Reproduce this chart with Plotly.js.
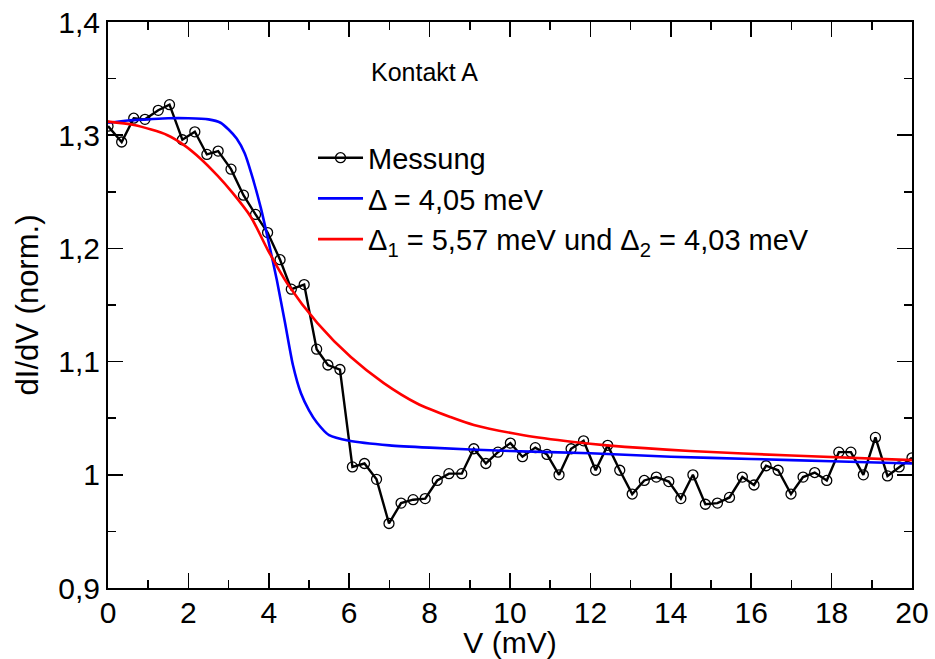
<!DOCTYPE html>
<html>
<head>
<meta charset="utf-8">
<script src="https://cdn.plot.ly/plotly-3.0.1.min.js"></script>
<style>
html,body{margin:0;padding:0;background:#fff;}
#chart{width:935px;height:659px;}
</style>
</head>
<body>
<div id="chart"></div>
<script>
// Measured data (Messung)
const measV = [0, 0.34, 0.64, 0.92, 1.25, 1.53, 1.85, 2.16, 2.46, 2.74, 3.06, 3.37, 3.67, 3.97, 4.28, 4.56, 4.88, 5.19, 5.47, 5.77,
  6.08, 6.38, 6.68, 6.99, 7.29, 7.59, 7.89, 8.19, 8.48, 8.80, 9.10, 9.40, 9.70, 10.01, 10.31, 10.63, 10.92, 11.22, 11.52, 11.83,
  12.13, 12.43, 12.73, 13.04, 13.34, 13.64, 13.95, 14.25, 14.55, 14.86, 15.16, 15.46, 15.78, 16.07, 16.37, 16.67, 16.99, 17.29,
  17.58, 17.88, 18.18, 18.48, 18.79, 19.09, 19.39, 19.68, 20];
const measG = [1.308, 1.294, 1.315, 1.314, 1.322, 1.327, 1.296, 1.303, 1.283, 1.286, 1.270, 1.247, 1.230, 1.214, 1.190, 1.164, 1.168, 1.111, 1.097, 1.093,
  1.007, 1.010, 0.996, 0.957, 0.975, 0.978, 0.979, 0.995, 1.001, 1.001, 1.023, 1.010, 1.020, 1.028, 1.016, 1.024, 1.018, 1.000, 1.023, 1.030,
  1.004, 1.026, 1.004, 0.983, 0.995, 0.998, 0.994, 0.979, 1.000, 0.974, 0.975, 0.980, 0.998, 0.991, 1.008, 1.004, 0.983, 0.998,
  1.002, 0.995, 1.020, 1.020, 1.000, 1.033, 0.999, 1.007, 1.015];

// Fit with one gap (blue)
const fit1V = [0, 0.5, 1, 1.5, 2, 2.5, 2.8, 3.0, 3.2, 3.4, 3.6, 3.8, 4.0, 4.2, 4.4, 4.6, 4.8, 5.0, 5.2, 5.5, 6, 7, 8, 10, 12, 14, 16, 18, 20];
const fit1G = [1.311, 1.313, 1.314, 1.315, 1.315, 1.314, 1.311, 1.305, 1.297, 1.284, 1.262, 1.236, 1.205, 1.172, 1.135, 1.097, 1.072, 1.057, 1.046, 1.035, 1.030, 1.026, 1.024, 1.021, 1.019, 1.016, 1.014, 1.012, 1.010];

// Fit with two gaps (red)
const fit2V = [0, 0.65, 1.48, 1.90, 2.31, 2.73, 3.1, 3.55, 3.97, 4.46, 5.21, 6.04, 6.86, 7.69, 8.52, 9.10, 10.34, 11.58, 12.41, 14.48, 17, 20];
const fit2G = [1.312, 1.309, 1.300, 1.291, 1.279, 1.264, 1.249, 1.228, 1.199, 1.169, 1.134, 1.104, 1.081, 1.063, 1.051, 1.044, 1.035, 1.029, 1.026, 1.021, 1.017, 1.013];

const names = ['Messung', 'Δ = 4,05 meV', 'Δ<sub>1</sub> = 5,57 meV und Δ<sub>2</sub> = 4,03 meV'];
const xTickVals = [0, 2, 4, 6, 8, 10, 12, 14, 16, 18, 20];
const xTickText = ['0', '2', '4', '6', '8', '10', '12', '14', '16', '18', '20'];
const yTickVals = [0.9, 1.0, 1.1, 1.2, 1.3, 1.4];
const yTickText = ['0,9', '1', '1,1', '1,2', '1,3', '1,4'];

const FONT = 'Liberation Sans, Arial, sans-serif';

const traces = [
  {x: measV, y: measG, name: names[0], mode: 'lines+markers', type: 'scatter',
   line: {color: '#000', width: 2.4},
   marker: {symbol: 'circle-open', size: 10, color: '#000', line: {width: 1.3, color: '#000'}}},
  {x: fit1V, y: fit1G, name: names[1], mode: 'lines', type: 'scatter',
   line: {color: '#0000ff', width: 2.6, shape: 'spline', smoothing: 0.6}},
  {x: fit2V, y: fit2G, name: names[2], mode: 'lines', type: 'scatter',
   line: {color: '#ff0000', width: 2.6, shape: 'spline', smoothing: 0.8}}
];

const axisCommon = {
  showline: true, linecolor: '#000', linewidth: 2, mirror: 'allticks',
  ticks: 'inside', ticklen: 15, tickwidth: 1.5, tickcolor: '#000',
  showgrid: false, zeroline: false,
  tickfont: {family: FONT, size: 30, color: '#000'}
};

const layout = {
  width: 935, height: 659,
  margin: {l: 108, r: 23, t: 22, b: 71},
  paper_bgcolor: '#fff', plot_bgcolor: '#fff',
  font: {family: FONT, color: '#000'},
  showlegend: true,
  legend: {x: 0.255, y: 0.805, xanchor: 'left', yanchor: 'top', bgcolor: 'rgba(0,0,0,0)',
           font: {family: FONT, size: 29, color: '#000'}, tracegroupgap: 0, itemwidth: 45},
  xaxis: Object.assign({}, axisCommon, {
    range: [0, 20], tickmode: 'array', tickvals: xTickVals, ticktext: xTickText,
    ticklabelstandoff: -3,
    minor: {dtick: 1, ticks: 'inside', ticklen: 8, tickwidth: 1.5, tickcolor: '#000', showgrid: false},
    title: {text: 'V (mV)', font: {family: FONT, size: 30, color: '#000'}, standoff: 0}
  }),
  yaxis: Object.assign({}, axisCommon, {
    range: [0.9, 1.4], tickmode: 'array', tickvals: yTickVals, ticktext: yTickText,
    minor: {dtick: 0.05, tick0: 0.9, ticks: 'inside', ticklen: 8, tickwidth: 1.5, tickcolor: '#000', showgrid: false},
    title: {text: 'dI/dV (norm.)', font: {family: FONT, size: 31, color: '#000'}, standoff: 10}
  }),
  annotations: [
    {x: 6.5, y: 1.356, xref: 'x', yref: 'y', xanchor: 'left', yanchor: 'middle', showarrow: false,
     text: 'Kontakt A', font: {family: FONT, size: 25, color: '#000'}}
  ]
};

Plotly.newPlot('chart', traces, layout, {staticPlot: true, displayModeBar: false});
</script>
</body>
</html>
